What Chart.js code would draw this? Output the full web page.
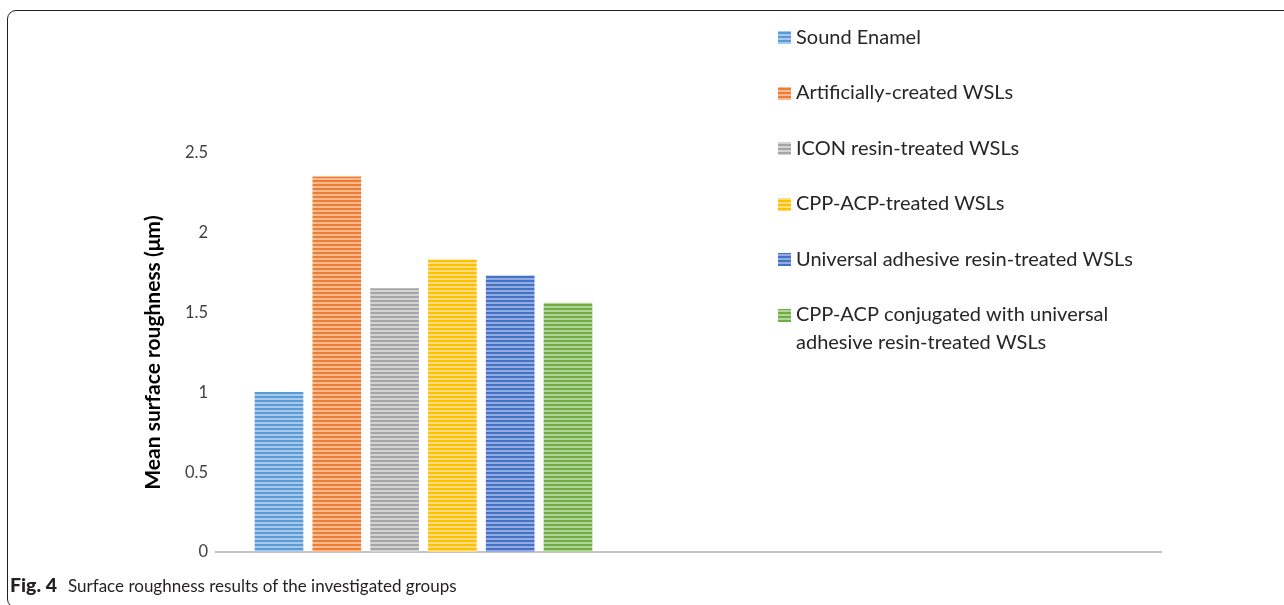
<!DOCTYPE html>
<html>
<head>
<meta charset="utf-8">
<script src="https://cdn.jsdelivr.net/npm/chart.js@4.4.1/dist/chart.umd.min.js"></script>
<style>
  html, body { margin: 0; padding: 0; background: #fff; }
  #wrap { position: relative; width: 1284px; height: 605px; overflow: hidden; }
  #frame {
    position: absolute; left: 7px; top: 10px; width: 1320px; height: 598px;
    border: 1.3px solid #231f20; border-radius: 9px; box-sizing: border-box;
  }
  #chart { position: absolute; left: 0; top: 0; }
  #caption {
    position: absolute; left: 10px; top: 573px; font-family: Lato, "Noto Sans", sans-serif;
    font-size: 17px; color: #231f20; white-space: pre; line-height: 24px;
  }
  #caption b { font-weight: 900; font-size: 19.5px; margin-right: 11px; }
</style>
</head>
<body>
<div id="wrap">
  <div id="frame"></div>
  <canvas id="chart" width="1284" height="605"></canvas>
  <div id="caption"><b>Fig. 4</b>Surface roughness results of the investigated groups</div>
</div>
<script>
// Groups and their mean surface roughness (µm)
const groups = [
  'Sound Enamel',
  'Artificially-created WSLs',
  'ICON resin-treated WSLs',
  'CPP-ACP-treated WSLs',
  'Universal adhesive resin-treated WSLs',
  'CPP-ACP conjugated with universal adhesive resin-treated WSLs'
];
const roughness = [1.00, 2.35, 1.65, 1.83, 1.73, 1.56];

// Value-axis tick labels
const yTickLabels = ['0', '0.5', '1', '1.5', '2', '2.5'];

// Stripe colours for each group: main tone and lighter tone
const mainColors  = ['#5b9bd5', '#ed7d31', '#a5a5a5', '#ffc000', '#4472c4', '#70ad47'];
const lightColors = ['#a7c8eb', '#f6b992', '#d3d3d3', '#ffdc80', '#93abe0', '#b1d497'];

const yAxisTitle = 'Mean surface roughness (\u03bcm)';

// Horizontal narrow-stripe fill
function stripes(main, light) {
  const c = document.createElement('canvas');
  c.width = 8; c.height = 4;
  const g = c.getContext('2d');
  g.fillStyle = light; g.fillRect(0, 0, 8, 4);
  g.fillStyle = main;  g.fillRect(0, 0, 8, 2);
  return g.createPattern(c, 'repeat');
}
const fills = mainColors.map((m, i) => stripes(m, lightColors[i]));

function wrapText(ctx, text, maxWidth) {
  const words = text.split(' ');
  const lines = [];
  let cur = '';
  words.forEach(w => {
    const test = cur ? cur + ' ' + w : w;
    if (cur && ctx.measureText(test).width > maxWidth) { lines.push(cur); cur = w; }
    else cur = test;
  });
  if (cur) lines.push(cur);
  return lines;
}

// Legend list at the right, with striped swatches
const stripedLegend = {
  id: 'stripedLegend',
  afterDraw(chart, args, o) {
    const ctx = chart.ctx;
    const ds = chart.data.datasets[0];
    ctx.save();
    ctx.font = o.font;
    ctx.textBaseline = 'middle';
    ctx.textAlign = 'left';
    let y = o.top;
    chart.data.labels.forEach((label, i) => {
      ctx.fillStyle = ds.backgroundColor[i];
      ctx.fillRect(o.left, Math.round(y - o.box / 2), o.box, o.box);
      ctx.fillStyle = o.color;
      wrapText(ctx, label, o.maxWidth).forEach((ln, k) => {
        ctx.fillText(ln, o.left + o.box + o.gap, y + k * o.lineHeight);
      });
      y += o.rowStep;
    });
    ctx.restore();
  }
};

new Chart(document.getElementById('chart'), {
  type: 'bar',
  data: {
    labels: groups,
    datasets: [{
      data: roughness.map((v, i) => ({ x: i, y: v })),
      backgroundColor: fills,
      borderWidth: 0,
      barThickness: 48
    }]
  },
  options: {
    responsive: false,
    animation: false,
    devicePixelRatio: 1,
    layout: { padding: { left: 141, right: 123, top: 153, bottom: 53 } },
    plugins: {
      legend: { display: false },
      tooltip: { enabled: false },
      stripedLegend: {
        left: 778, top: 37.5, box: 13, gap: 5, rowStep: 55.5, lineHeight: 27.7,
        maxWidth: 345, font: '20px Lato, "Noto Sans", sans-serif', color: '#262626'
      }
    },
    scales: {
      x: {
        type: 'linear',
        offset: false,
        min: -1.09, max: 15.26,
        grid: { display: false, drawTicks: false },
        border: { display: true, color: '#c4c4c4', width: 2 },
        ticks: { display: false },
        afterFit(s) { s.height = 0; }
      },
      y: {
        min: 0, max: 2.5,
        grid: { display: false, drawTicks: false },
        border: { display: false },
        ticks: {
          stepSize: 0.5, padding: 8, color: '#404040',
          font: { family: 'Lato, "Noto Sans", sans-serif', size: 16.5 },
          callback: (v, i) => yTickLabels[i]
        },
        title: {
          display: true, text: yAxisTitle, color: '#000',
          padding: { top: 0, bottom: 0 },
          font: { family: 'Lato, "Noto Sans", sans-serif', size: 21, weight: 'bold' }
        },
        afterFit(s) { s.width = 75; }
      }
    }
  },
  plugins: [stripedLegend]
});
</script>
</body>
</html>
